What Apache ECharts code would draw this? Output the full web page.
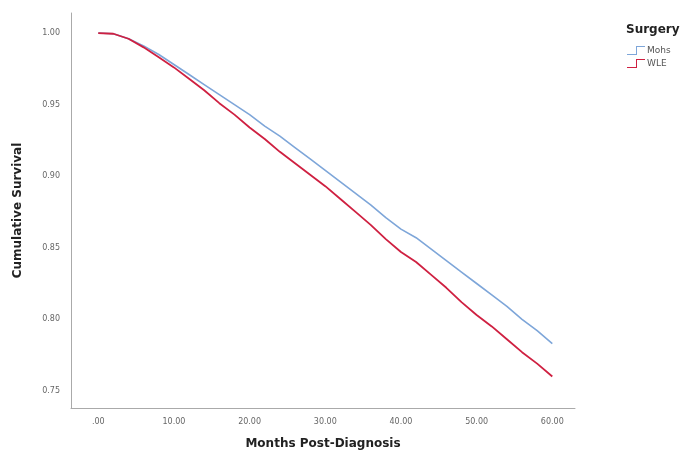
<!DOCTYPE html>
<html>
<head>
<meta charset="utf-8">
<script src="https://cdn.jsdelivr.net/npm/echarts@6/dist/echarts.min.js"></script>
<style>
html,body{margin:0;padding:0;background:#fff;}
#chart{width:681px;height:455px;}
</style>
</head>
<body>
<div id="chart"></div>
<script>
const months = [0,2,4,6,8,10,12,14,16,18,20,22,24,26,28,30,32,34,36,38,40,42,44,46,48,50,52,54,56,58,60];
const mohs = [1.000,0.9995,0.996,0.991,0.985,0.978,0.971,0.964,0.957,0.950,0.943,0.935,0.928,0.920,0.912,0.904,0.896,0.888,0.880,0.871,0.863,0.857,0.849,0.841,0.833,0.825,0.817,0.809,0.800,0.792,0.783];
const wle  = [1.000,0.9995,0.996,0.990,0.983,0.976,0.968,0.960,0.951,0.943,0.934,0.926,0.917,0.909,0.901,0.893,0.884,0.875,0.866,0.856,0.847,0.840,0.831,0.822,0.812,0.803,0.795,0.786,0.777,0.769,0.760];
const xTicks = [0,10,20,30,40,50,60];
const yTicks = [0.75,0.80,0.85,0.90,0.95,1.00];
const seriesNames = ['Mohs','WLE'];
const seriesColors = ['#7ea6d9','#cf2041'];

const chart = echarts.init(document.getElementById('chart'), null, {renderer:'canvas'});
const pair = (ys) => months.map((m,i)=>[m, ys[i]]);
const stepIcon = 'path://M0,9 L9,9 L9,1 L18,1 L18,2 L10,2 L10,10 L0,10 Z';
chart.setOption({
  animation:false,
  backgroundColor:'#fff',
  title:{
    text:'Surgery', left:621, top:19,
    textStyle:{fontFamily:'DejaVu Sans', fontWeight:'bold', fontSize:12, color:'#222'}
  },
  legend:{
    data:seriesNames.map((n,i)=>({name:n, icon:stepIcon,
      itemStyle:{color:seriesColors[i], borderWidth:0}})),
    orient:'vertical', left:622, top:41,
    itemWidth:20, itemHeight:9, itemGap:4,
    textStyle:{fontFamily:'DejaVu Sans', fontSize:9, color:'#555', padding:[0,0,0,-4]}
  },
  grid:{left:71, right:106, top:13, bottom:47, containLabel:false},
  xAxis:{
    type:'value', min:-3.6, max:63,
    name:'Months Post-Diagnosis', nameLocation:'middle', nameGap:30,
    nameTextStyle:{fontFamily:'DejaVu Sans', fontWeight:'bold', fontSize:12, color:'#222'},
    axisLine:{show:true, onZero:false, lineStyle:{color:'#aaa', width:1}},
    axisTick:{show:false, customValues:xTicks},
    splitLine:{show:false},
    axisLabel:{customValues:xTicks, fontFamily:'DejaVu Sans', fontSize:8, color:'#666', margin:10,
      formatter:(v)=> v===0 ? '.00' : v.toFixed(2)}
  },
  yAxis:{
    type:'value', min:0.738, max:1.014,
    name:'Cumulative Survival', nameLocation:'middle', nameGap:47, nameRotate:90,
    nameTextStyle:{fontFamily:'DejaVu Sans', fontWeight:'bold', fontSize:12, color:'#222'},
    axisLine:{show:true, onZero:false, lineStyle:{color:'#aaa', width:1}},
    axisTick:{show:false, customValues:yTicks},
    splitLine:{show:false},
    axisLabel:{customValues:yTicks, fontFamily:'DejaVu Sans', fontSize:8, color:'#666', margin:11,
      formatter:(v)=> v.toFixed(2)}
  },
  series:[
    {name:'Mohs', type:'line', data:pair(mohs), showSymbol:false, smooth:false,
      lineStyle:{color:seriesColors[0], width:1.6}, itemStyle:{color:seriesColors[0]}, z:2},
    {name:'WLE', type:'line', data:pair(wle), showSymbol:false, smooth:false,
      lineStyle:{color:seriesColors[1], width:1.8}, itemStyle:{color:seriesColors[1]}, z:3}
  ]
});
</script>
</body>
</html>
